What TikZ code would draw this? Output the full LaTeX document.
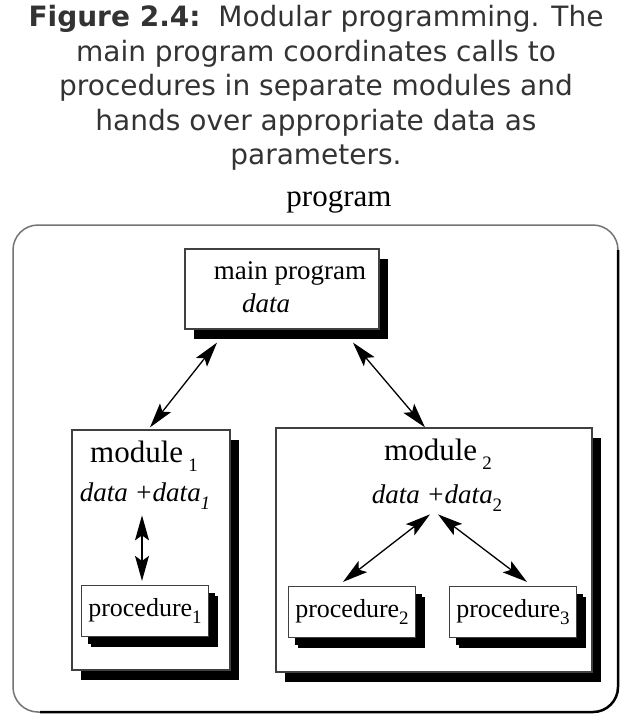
\documentclass[tikz,border=0pt]{standalone}
\usepackage{fontspec}
\setmainfont{Liberation Serif}
\newfontfamily\capfont{DejaVu Sans}
\usepackage{tikz}
\usetikzlibrary{calc,arrows.meta,shadows}

\newcommand{\lowsub}[1]{\raisebox{-0.28em}{\fontsize{19}{20}\selectfont #1}}

\begin{document}
\begin{tikzpicture}[x=1pt,y=-1pt,
    box/.style={draw=black!75, line width=1.2pt, fill=white, inner sep=0pt,
        drop shadow={shadow xshift=9pt, shadow yshift=-10pt, fill=black, opacity=1}},
    procbox/.style={box, minimum width=127pt, minimum height=51pt,
        drop shadow={shadow xshift=6pt, shadow yshift=-7pt, fill=black, opacity=1}},
    dbl/.style={{Stealth[length=25pt,width=14pt,inset=5pt]}-{Stealth[length=25pt,width=14pt,inset=5pt]}, line width=1.3pt},
    lbl/.style={inner sep=1pt, font=\fontsize{27}{30}\selectfont}]

    \useasboundingbox (0,0) rectangle (633,718);

    % caption
    \node[align=center, text=black!80, font=\capfont\fontsize{28}{34.5}\selectfont] (cap) at (316,88)
        {\textbf{Figure 2.4:}\ \ Modular programming. The\\ main program coordinates calls to\\
         procedures in separate modules and\\ hands over appropriate data as\\ parameters.};
    \node[font=\fontsize{31}{34}\selectfont] (prog) at (339,202) {program};

    % outer frame
    \draw[black!55, line width=1.5pt, rounded corners=25pt] (13,225) rectangle (618,712);
    \draw[black, line width=2.5pt, rounded corners=25pt] (618,250) -- (618,712) -- (40,712);

    \node[box, minimum width=194pt, minimum height=80pt] (main) at (282,289) {};
    \node[box, minimum width=158pt, minimum height=240pt] (mod1) at (151,550) {};
    \node[box, minimum width=316pt, minimum height=244pt] (mod2) at (434,550) {};

    \node[procbox] (proc1) at (145,611) {};
    \node[procbox] (proc2) at (352,612) {};
    \node[procbox] (proc3) at (513,612) {};

    \node[lbl] (mainname) at (290,273) {main program};
    \node[lbl] (maindata) at (266,303) {\textit{data}};
    \node[lbl, font=\fontsize{31}{34}\selectfont] (m1name) at (144,456) {module\,\lowsub{1}};
    \node[lbl] (d1) at (145,496) {\textit{data +data}\lowsub{\textit{1}}};
    \node[lbl, font=\fontsize{31}{34}\selectfont] (m2name) at (438,454) {module\,\lowsub{2}};
    \node[lbl] (d2) at (437,498) {\textit{data +data}\lowsub{2}};

    \node[lbl, font=\fontsize{26}{28}\selectfont] (p1) at (proc1) {procedure\lowsub{1}};
    \node[lbl, font=\fontsize{26}{28}\selectfont] (p2) at (proc2) {procedure\lowsub{2}};
    \node[lbl, font=\fontsize{26}{28}\selectfont] (p3) at (proc3) {procedure\lowsub{3}};

    \draw[dbl] ([shift={(-65,13)}]main.south) -- ([shift={(-1,-2)}]mod1.north);
    \draw[dbl] ([shift={(71,13)}]main.south) -- ([shift={(-9,0)}]mod2.north);
    \draw[dbl] ([shift={(-3,5)}]d1.south) -- ([shift={(-3,-4)}]proc1.north);
    \draw[dbl] ([shift={(-7,2)}]d2.south) -- ([shift={(-9,-4)}]proc2.north);
    \draw[dbl] ([shift={(1,2)}]d2.south) -- ([shift={(14,-4)}]proc3.north);

\end{tikzpicture}
\end{document}
